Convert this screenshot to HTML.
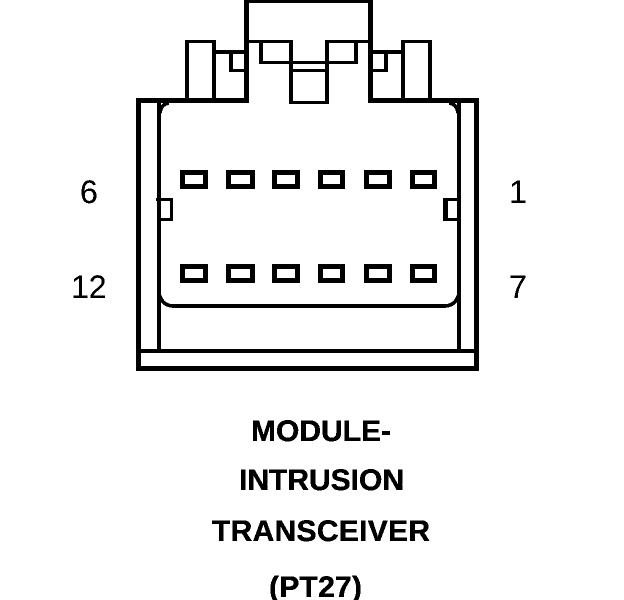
<!DOCTYPE html>
<html>
<head>
<meta charset="utf-8">
<title>Module - Intrusion Transceiver (PT27)</title>
<style>
html,body{margin:0;padding:0;background:#fff;width:624px;height:600px;overflow:hidden}
svg{display:block}
text{fill:#000;font-family:"Liberation Sans",Arial,sans-serif}
.b{font-weight:bold;font-size:30px;stroke:#000;stroke-width:.3px}
.n{font-size:32px}
</style>
</head>
<body>
<svg width="624" height="600" viewBox="0 0 624 600" xmlns="http://www.w3.org/2000/svg" shape-rendering="crispEdges">
<defs>
<filter id="t" filterUnits="userSpaceOnUse" x="0" y="0" width="624" height="600" color-interpolation-filters="sRGB">
<feComponentTransfer>
<feFuncA type="discrete" tableValues="0 1 1"/>
</feComponentTransfer>
</filter>
</defs>
<g fill="#000">
<!-- housing outline -->
<rect x="136" y="98" width="113" height="5"/>
<rect x="368" y="98" width="111" height="5"/>
<rect x="136" y="98" width="5" height="273"/>
<rect x="474" y="98" width="5" height="273"/>
<rect x="136" y="366" width="343" height="5"/>
<rect x="136" y="349" width="343" height="4"/>
<!-- inner verticals -->
<rect x="157" y="103" width="4" height="246"/>
<rect x="457" y="103" width="4" height="246"/>
<rect x="173" y="304" width="272" height="4"/>
<!-- top latch -->
<rect x="244" y="0" width="5" height="103"/>
<rect x="368" y="0" width="5" height="103"/>
<rect x="244" y="0" width="129" height="3"/>
<rect x="249" y="40" width="44" height="3"/>
<rect x="326" y="40" width="42" height="3"/>
<rect x="259" y="40" width="4" height="24"/>
<rect x="354" y="40" width="4" height="24"/>
<rect x="259" y="61" width="99" height="3"/>
<rect x="293" y="69" width="33" height="3"/>
<rect x="289" y="40" width="4" height="64"/>
<rect x="325" y="40" width="4" height="64"/>
<rect x="289" y="101" width="40" height="3"/>
<!-- left tab -->
<rect x="185" y="40" width="4" height="60"/>
<rect x="212" y="40" width="4" height="60"/>
<rect x="185" y="40" width="31" height="3"/>
<rect x="216" y="50" width="28" height="4"/>
<rect x="229" y="50" width="4" height="22"/>
<rect x="229" y="69" width="15" height="3"/>
<!-- right tab -->
<rect x="401" y="40" width="4" height="60"/>
<rect x="428" y="40" width="4" height="60"/>
<rect x="401" y="40" width="31" height="3"/>
<rect x="373" y="50" width="28" height="4"/>
<rect x="384" y="50" width="4" height="22"/>
<rect x="373" y="69" width="15" height="3"/>
<!-- side keys -->
<rect x="156" y="198" width="17" height="3"/>
<rect x="170" y="198" width="3" height="23"/>
<rect x="157" y="218" width="16" height="3"/>
<rect x="443" y="198" width="14" height="3"/>
<rect x="443" y="198" width="5" height="23"/>
<rect x="443" y="218" width="14" height="3"/>
</g>
<!-- rounded corners -->
<g fill="none" stroke="#000" stroke-width="3.5" shape-rendering="auto" filter="url(#t)">
<path d="M160 296 Q163 306 174 306"/>
<path d="M458 296 Q455 306 444 306"/>
<path d="M160 113 Q161 104 169 103"/>
<path d="M458 113 Q457 104 449 103"/>
</g>
<!-- pins -->
<g fill="#fff" stroke="#000" stroke-width="5">
<rect x="182.500" y="172.500" width="23" height="14"/>
<rect x="228.500" y="172.500" width="24" height="14"/>
<rect x="274.500" y="172.500" width="23" height="14"/>
<rect x="320.500" y="172.500" width="22" height="14"/>
<rect x="366.500" y="172.500" width="23" height="14"/>
<rect x="412.500" y="172.500" width="22" height="14"/>
<rect x="182.500" y="266.500" width="23" height="14"/>
<rect x="228.500" y="266.500" width="24" height="14"/>
<rect x="274.500" y="266.500" width="23" height="14"/>
<rect x="320.500" y="266.500" width="22" height="14"/>
<rect x="366.500" y="266.500" width="23" height="14"/>
<rect x="412.500" y="266.500" width="22" height="14"/>
</g>
<g filter="url(#t)">
<!-- pin numbers -->
<text class="n" x="80" y="203">6</text>
<text class="n" x="71" y="298">12</text>
<text class="n" x="509" y="203">1</text>
<text class="n" x="509" y="298">7</text>
<!-- caption -->
<text class="b" x="251" y="441" textLength="140" lengthAdjust="spacing">MODULE-</text>
<text class="b" x="239" y="490" textLength="165" lengthAdjust="spacing">INTRUSION</text>
<text class="b" x="212" y="541" textLength="218" lengthAdjust="spacing">TRANSCEIVER</text>
<text class="b" x="269" y="597" textLength="93" lengthAdjust="spacing">(PT27)</text>
</g>
</svg>
</body>
</html>
